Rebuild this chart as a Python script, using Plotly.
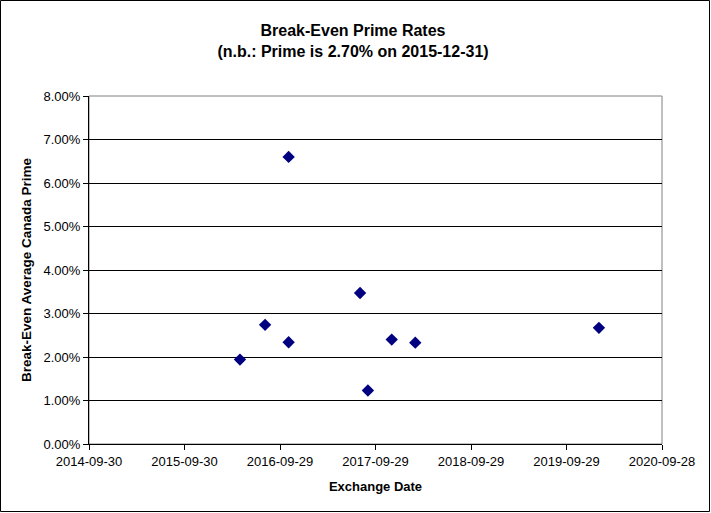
import plotly.graph_objects as go

dates = ["2016-04-29", "2016-08-03", "2016-11-01", "2016-11-01", "2017-08-01",
         "2017-08-31", "2017-11-30", "2018-02-28", "2020-01-31"]
rates = [1.94, 2.74, 6.60, 2.34, 3.47, 1.23, 2.40, 2.33, 2.67]

x_ticks = ["2014-09-30", "2015-09-30", "2016-09-29", "2017-09-29",
           "2018-09-29", "2019-09-29", "2020-09-28"]
y_ticks = [0, 1, 2, 3, 4, 5, 6, 7, 8]
y_labels = [f"{v:.2f}%" for v in y_ticks]

W, H = 711, 513
ML, MR, MT, MB = 89, 49, 96, 69
pw, ph = W - ML - MR, H - MT - MB

font = "Liberation Sans, Arial, sans-serif"

fig = go.Figure(go.Scatter(
    x=dates, y=rates, mode="markers",
    marker=dict(symbol="diamond", size=9.5, color="#000080"),
    hoverinfo="x+y",
))

fig.update_layout(
    width=W, height=H,
    margin=dict(l=ML, r=MR, t=MT, b=MB),
    paper_bgcolor="white", plot_bgcolor="white",
    font=dict(family=font, size=13, color="black"),
    showlegend=False,
    title=dict(
        text="<b>Break-Even Prime Rates</b><br><b>(n.b.: Prime is 2.70% on 2015-12-31)</b>",
        x=(353 / W), xanchor="center", y=1 - 36 / H, yanchor="middle",
        font=dict(family=font, size=16, color="black"),
    ),
    xaxis=dict(
        range=[x_ticks[0], x_ticks[-1]],
        tickvals=x_ticks, ticktext=x_ticks,
        showgrid=False, zeroline=False,
        showline=True, linecolor="black", linewidth=1,
        ticks="outside", ticklen=5, tickcolor="black",
        tickfont=dict(size=13),
        title=dict(text="<b>Exchange Date</b>", font=dict(size=13), standoff=14),
    ),
    yaxis=dict(
        range=[0, 8],
        tickvals=y_ticks, ticktext=y_labels,
        showgrid=True, gridcolor="black", gridwidth=1,
        zeroline=False,
        showline=True, linecolor="black", linewidth=1,
        ticks="outside", ticklen=5, tickcolor="black",
        tickfont=dict(size=13),
        title=dict(text="<b>Break-Even Average Canada Prime</b>", font=dict(size=13.5), standoff=8),
    ),
    shapes=[
        dict(type="rect", xref="paper", yref="paper", x0=0, x1=1, y0=0, y1=1,
             line=dict(color="#808080", width=1), layer="below"),
        dict(type="rect", xref="paper", yref="paper",
             x0=-(ML - 0.5) / pw, x1=1 + (MR - 1.5) / pw,
             y0=-(MB - 1.5) / ph, y1=1 + (MT - 0.5) / ph,
             line=dict(color="black", width=1), layer="below"),
    ],
)

fig.write_html("out.html", config={"displayModeBar": False},
               post_script="document.body.style.margin='0';")
